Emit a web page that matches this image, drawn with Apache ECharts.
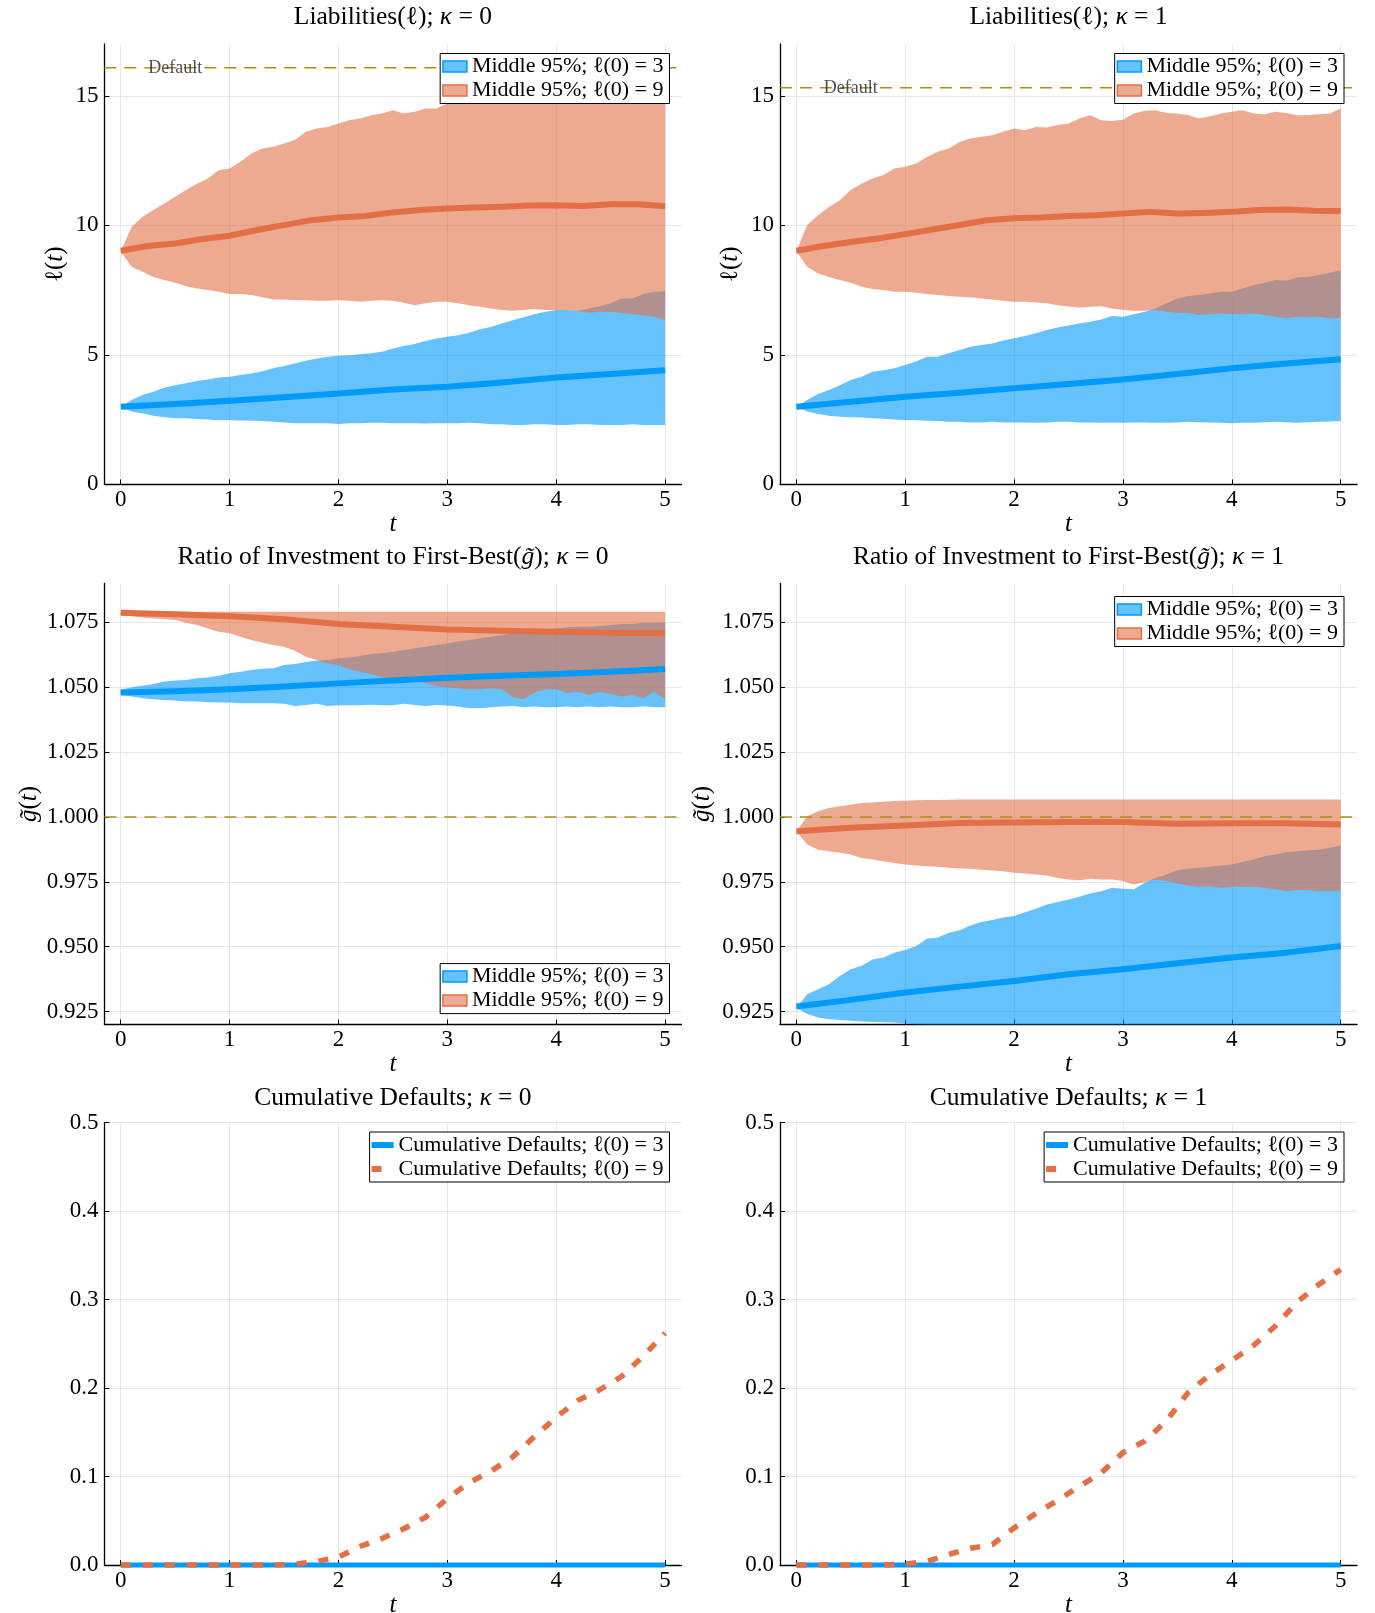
<!DOCTYPE html>
<html>
<head>
<meta charset="utf-8">
<title>Simulated liabilities, investment ratio and cumulative defaults</title>
<script src="https://cdn.jsdelivr.net/npm/echarts@6/dist/echarts.min.js"></script>
<style>
  html, body { margin: 0; padding: 0; background: #ffffff; }
  #chart { width: 1375px; height: 1613px; }
</style>
</head>
<body>
<div id="chart"></div>
<script>
// ---------- time grids ----------
const T_BAND = [0,0.1,0.2,0.3,0.4,0.5,0.6,0.7,0.8,0.9,1,1.1,1.2,1.3,1.4,1.5,1.6,1.7,1.8,1.9,2,2.1,2.2,2.3,2.4,2.5,2.6,2.7,2.8,2.9,3,3.1,3.2,3.3,3.4,3.5,3.6,3.7,3.8,3.9,4,4.1,4.2,4.3,4.4,4.5,4.6,4.7,4.8,4.9,5];
const T_QUARTER = [0,0.25,0.5,0.75,1,1.25,1.5,1.75,2,2.25,2.5,2.75,3,3.25,3.5,3.75,4,4.25,4.5,4.75,5];
const T_HALF = [0,0.5,1,1.5,2,2.5,3,3.5,4,4.5,5];
const T_DEF = [0,0.2,0.4,0.6,0.8,1,1.2,1.4,1.6,1.8,2,2.2,2.4,2.6,2.8,3,3.2,3.4,3.6,3.8,4,4.2,4.4,4.6,4.8,5];

// ---------- tick labels ----------
const X_TICKS = [0,1,2,3,4,5];
const LIAB_TICKS = [0,5,10,15];
const RATIO_TICKS = [0.925,0.95,0.975,1.0,1.025,1.05,1.075];
const DEF_TICKS = [0,0.1,0.2,0.3,0.4,0.5];

// ---------- liabilities, kappa = 0 ----------
const liab0_lo3 = [3.0,2.81,2.74,2.65,2.59,2.55,2.55,2.52,2.51,2.48,2.48,2.47,2.46,2.45,2.42,2.39,2.36,2.36,2.36,2.36,2.33,2.36,2.36,2.38,2.38,2.36,2.36,2.36,2.35,2.36,2.36,2.36,2.38,2.36,2.32,2.32,2.29,2.29,2.32,2.32,2.29,2.29,2.32,2.32,2.29,2.29,2.29,2.32,2.29,2.29,2.29];
const liab0_hi3 = [3.0,3.26,3.45,3.58,3.73,3.83,3.9,3.99,4.05,4.13,4.16,4.22,4.28,4.37,4.48,4.57,4.67,4.77,4.86,4.93,4.97,4.99,5.02,5.06,5.12,5.25,5.34,5.42,5.54,5.63,5.7,5.76,5.85,5.99,6.08,6.21,6.34,6.45,6.57,6.66,6.73,6.73,6.7,6.79,6.88,6.99,7.18,7.18,7.35,7.44,7.46];
const liab0_lo9 = [9.0,8.4,8.21,8.01,7.89,7.78,7.65,7.56,7.5,7.44,7.35,7.35,7.31,7.22,7.14,7.14,7.11,7.11,7.09,7.09,7.11,7.09,7.05,7.09,7.11,7.09,7.01,6.92,6.99,7.05,7.05,6.99,6.92,6.86,6.79,6.73,6.7,6.73,6.77,6.73,6.73,6.73,6.69,6.63,6.66,6.66,6.62,6.57,6.53,6.47,6.34];
const liab0_hi9 = [9.0,9.94,10.33,10.59,10.84,11.1,11.36,11.61,11.81,12.13,12.19,12.45,12.77,12.97,13.03,13.16,13.29,13.61,13.74,13.8,13.93,14.06,14.12,14.25,14.32,14.44,14.32,14.38,14.51,14.51,14.7,14.75,14.8,14.85,14.9,14.95,15.0,15.02,15.05,15.08,15.1,15.12,15.15,15.17,15.2,15.22,15.25,15.27,15.3,15.3,15.32];
const liab0_med3 = [3.0,3.1,3.23,3.36,3.51,3.66,3.77,3.93,4.13,4.26,4.41];
const liab0_med9 = [9.02,9.2,9.3,9.47,9.6,9.82,10.01,10.2,10.3,10.36,10.5,10.59,10.65,10.69,10.72,10.77,10.78,10.75,10.81,10.81,10.74];

// ---------- liabilities, kappa = 1 ----------
const liab1_lo3 = [3.0,2.81,2.72,2.65,2.61,2.59,2.58,2.55,2.53,2.51,2.48,2.48,2.46,2.45,2.42,2.42,2.39,2.39,2.42,2.39,2.39,2.39,2.38,2.39,2.42,2.42,2.39,2.39,2.38,2.39,2.38,2.39,2.39,2.38,2.38,2.39,2.42,2.4,2.39,2.38,2.36,2.38,2.38,2.4,2.42,2.4,2.38,2.4,2.42,2.43,2.45];
const liab1_hi3 = [3.0,3.26,3.49,3.64,3.83,4.03,4.16,4.35,4.41,4.48,4.61,4.74,4.93,4.93,5.06,5.19,5.31,5.38,5.44,5.55,5.64,5.73,5.83,5.96,6.06,6.13,6.21,6.28,6.37,6.5,6.47,6.57,6.66,6.79,6.99,7.18,7.27,7.31,7.37,7.44,7.44,7.56,7.69,7.78,7.89,7.86,7.99,8.01,8.08,8.17,8.27];
const liab1_lo9 = [9.0,8.4,8.14,8.01,7.89,7.78,7.63,7.54,7.5,7.44,7.44,7.4,7.35,7.31,7.27,7.24,7.22,7.18,7.14,7.09,7.05,7.05,7.02,6.99,6.92,6.87,6.83,6.86,6.88,6.79,6.73,6.7,6.7,6.73,6.66,6.62,6.62,6.54,6.57,6.6,6.57,6.57,6.6,6.54,6.47,6.41,6.47,6.45,6.47,6.41,6.43];
const liab1_hi9 = [9.0,10.01,10.39,10.71,10.97,11.36,11.61,11.81,11.94,12.19,12.26,12.39,12.64,12.84,12.97,13.22,13.35,13.42,13.48,13.61,13.74,13.67,13.8,13.78,13.87,13.93,14.12,14.25,14.06,14.03,14.08,14.32,14.42,14.44,14.34,14.32,14.25,14.12,14.21,14.32,14.38,14.44,14.32,14.29,14.38,14.34,14.25,14.25,14.29,14.32,14.51];
const liab1_med3 = [3.0,3.19,3.38,3.54,3.71,3.88,4.05,4.26,4.48,4.67,4.83];
const liab1_med9 = [9.02,9.2,9.36,9.49,9.66,9.84,10.01,10.2,10.27,10.3,10.36,10.39,10.46,10.52,10.46,10.48,10.52,10.59,10.61,10.56,10.55];

// default thresholds for liabilities
const DEFAULT_LIAB = [16.08, 15.31];

// ---------- investment ratio, kappa = 0 ----------
const ratio0_lo3 = [1.047,1.0464,1.0458,1.0454,1.0451,1.0449,1.0445,1.0445,1.0442,1.0441,1.0441,1.0438,1.0438,1.0438,1.0438,1.0436,1.0428,1.0432,1.0436,1.0428,1.0431,1.0431,1.0431,1.0433,1.0431,1.0431,1.0436,1.0432,1.0428,1.0432,1.043,1.0426,1.0419,1.0419,1.0423,1.0426,1.0428,1.0423,1.0426,1.0423,1.0423,1.0426,1.0423,1.0426,1.0423,1.0426,1.0423,1.0423,1.0426,1.0423,1.0423];
const ratio0_hi3 = [1.049,1.05,1.0506,1.0513,1.0522,1.0526,1.0528,1.0535,1.0538,1.0544,1.0554,1.056,1.0567,1.0571,1.0573,1.0586,1.059,1.0597,1.0603,1.0605,1.0612,1.0615,1.0621,1.0628,1.0631,1.0637,1.0644,1.065,1.0656,1.0663,1.0669,1.0676,1.0682,1.0688,1.0695,1.0701,1.0708,1.071,1.0718,1.0723,1.0727,1.0731,1.0733,1.0733,1.0736,1.074,1.0744,1.0744,1.0749,1.0749,1.075];
const ratio0_lo9 = [1.0778,1.0774,1.0769,1.0765,1.0763,1.0759,1.0749,1.074,1.0727,1.0714,1.0708,1.0695,1.0682,1.0672,1.0663,1.0656,1.0641,1.0618,1.0605,1.0592,1.0586,1.0569,1.056,1.0551,1.0538,1.0528,1.0538,1.0528,1.0515,1.0505,1.05,1.0496,1.0492,1.0492,1.0496,1.0492,1.0462,1.0454,1.0479,1.0492,1.0492,1.0477,1.0483,1.047,1.0483,1.0474,1.0464,1.047,1.0458,1.0483,1.0454];
const ratio0_hi9 = [1.0791,1.0791,1.0791,1.0791,1.0791,1.0791,1.0791,1.0791,1.0791,1.0791,1.0791,1.0791,1.0791,1.0791,1.0791,1.0791,1.0791,1.0791,1.0791,1.0791,1.0791,1.0791,1.0791,1.0791,1.0791,1.0791,1.0791,1.0791,1.0791,1.0791,1.0791,1.0791,1.0791,1.0791,1.0791,1.0791,1.0791,1.0791,1.0791,1.0791,1.0791,1.0791,1.0791,1.0791,1.0791,1.0791,1.0791,1.0791,1.0791,1.0791,1.0791];
const ratio0_med3 = [1.048,1.0485,1.0492,1.0503,1.0515,1.0526,1.0537,1.0544,1.0551,1.056,1.057];
const ratio0_med9 = [1.0787,1.0781,1.0774,1.0762,1.0744,1.0733,1.0723,1.0718,1.0714,1.071,1.0708];

// ---------- investment ratio, kappa = 1 ----------
const ratio1_lo3 = [0.9265,0.924,0.9227,0.922,0.9217,0.9214,0.9212,0.921,0.9209,0.9208,0.9204,0.92,0.9198,0.9196,0.9195,0.9194,0.9193,0.9192,0.9191,0.919,0.919,0.9189,0.9189,0.9188,0.9188,0.9187,0.9187,0.9186,0.9186,0.9186,0.9185,0.9185,0.9185,0.9184,0.9184,0.9184,0.9183,0.9183,0.9183,0.9183,0.9182,0.9182,0.9182,0.9182,0.9181,0.9181,0.9181,0.9181,0.918,0.918,0.918];
const ratio1_hi3 = [0.9265,0.9317,0.9336,0.9355,0.9387,0.9413,0.9426,0.9451,0.9458,0.9477,0.9487,0.9503,0.9531,0.9535,0.9554,0.9563,0.9582,0.9595,0.9603,0.9612,0.9618,0.9633,0.9646,0.9663,0.9672,0.9682,0.9692,0.9705,0.9714,0.9727,0.9723,0.9721,0.9746,0.9765,0.9778,0.9795,0.98,0.9804,0.9808,0.9813,0.9817,0.9826,0.9836,0.9849,0.9855,0.9864,0.9868,0.9872,0.9874,0.9881,0.989];
const ratio1_lo9 = [0.9945,0.9894,0.9874,0.9868,0.9862,0.9855,0.9842,0.9836,0.9829,0.9823,0.9817,0.9813,0.981,0.9808,0.9804,0.9801,0.98,0.9797,0.9794,0.9791,0.9785,0.9782,0.9778,0.9774,0.9765,0.9759,0.9756,0.9762,0.9759,0.9759,0.9753,0.974,0.9749,0.9759,0.9753,0.9744,0.9736,0.9731,0.9733,0.9727,0.973,0.9731,0.9731,0.9727,0.9721,0.9714,0.9718,0.9718,0.9714,0.9714,0.9714];
const ratio1_hi9 = [0.9945,1.0003,1.0022,1.0035,1.0041,1.0047,1.0054,1.0056,1.0059,1.0062,1.0063,1.0064,1.0065,1.0065,1.0066,1.0067,1.0067,1.0067,1.0067,1.0067,1.0067,1.0067,1.0067,1.0067,1.0067,1.0067,1.0067,1.0067,1.0067,1.0067,1.0067,1.0067,1.0067,1.0067,1.0067,1.0067,1.0067,1.0067,1.0067,1.0067,1.0067,1.0067,1.0067,1.0067,1.0067,1.0067,1.0067,1.0067,1.0067,1.0067,1.0067];
const ratio1_med3 = [0.9269,0.9295,0.9323,0.9346,0.9368,0.9394,0.9413,0.9436,0.9458,0.9477,0.9503];
const ratio1_med9 = [0.9945,0.9958,0.9967,0.9977,0.9979,0.9981,0.9981,0.9974,0.9976,0.9976,0.9971];

// first-best reference level for the investment ratio
const FIRST_BEST = [1.0, 1.0];

// ---------- cumulative defaults ----------
const def0_3 = [0,0,0,0,0,0,0,0,0,0,0,0,0,0,0,0,0,0,0,0,0,0,0,0,0,0];
const def0_9 = [0,0,0,0,0,0,0,0,0.001,0.004,0.009,0.021,0.03,0.041,0.054,0.075,0.093,0.106,0.122,0.145,0.167,0.186,0.198,0.213,0.236,0.262];
const def1_3 = [0,0,0,0,0,0,0,0,0,0,0,0,0,0,0,0,0,0,0,0,0,0,0,0,0,0];
const def1_9 = [0,0,0,0,0,0.001,0.004,0.012,0.019,0.023,0.042,0.058,0.073,0.089,0.104,0.127,0.14,0.163,0.195,0.215,0.231,0.248,0.27,0.297,0.317,0.334];

// ---------- styling ----------
const FONT = "'Liberation Serif', 'DejaVu Serif', serif";
const BLUE = '#009AFA';
const ORANGE = '#E36F47';
const BLUE_BAND = 'rgba(0,154,250,0.6)';
const ORANGE_BAND = 'rgba(227,111,71,0.6)';
const GOLD = '#AC8E18';
const BLUE_SWATCH = '#66C2FC';
const ORANGE_SWATCH = '#EEA991';
const GRID_LINE = '#e6e6e6';

const NAME_B3 = 'Middle 95%; ℓ(0) = 3';
const NAME_B9 = 'Middle 95%; ℓ(0) = 9';
const NAME_D3 = 'Cumulative Defaults; ℓ(0) = 3';
const NAME_D9 = 'Cumulative Defaults; ℓ(0) = 9';

const COL_LEFT = [104.4, 780];
const COL_WIDTH = 577;
const ROW_TOP = [44, 583.5, 1122.5];
const ROW_HEIGHT = [440.4, 441, 442.5];

const pairs = (t, v) => t.map((x, i) => [x, v[i]]);

// ---------- builders ----------
// a shaded quantile band: one polygon along the upper edge and back along the lower edge
function bandSeries(g, t, lo, hi, fill, color, name, clip) {
  return {
    type: 'custom', name: name, coordinateSystem: 'cartesian2d', xAxisIndex: g, yAxisIndex: g,
    data: [[t[0], lo[0]]], clip: !!clip, silent: true, animation: false,
    itemStyle: { color: color },
    renderItem: function (params, api) {
      const pts = [];
      for (let i = 0; i < t.length; i++) pts.push(api.coord([t[i], hi[i]]));
      for (let i = t.length - 1; i >= 0; i--) pts.push(api.coord([t[i], lo[i]]));
      return { type: 'polygon', shape: { points: pts }, style: { fill: fill, stroke: null } };
    }
  };
}

function lineSeries(g, t, v, color, width, dash, name) {
  return { type: 'line', name: name, xAxisIndex: g, yAxisIndex: g, data: pairs(t, v),
    symbol: 'none', clip: false, itemStyle: { color: color },
    lineStyle: { color: color, width: width, type: dash || 'solid', cap: 'butt', join: 'round' },
    silent: true, animation: false };
}

function levelSeries(g, level) {
  return { type: 'line', xAxisIndex: g, yAxisIndex: g, data: [[-0.15, level], [5.15, level]],
    symbol: 'none', lineStyle: { color: GOLD, width: 1.5, type: [12, 8] },
    silent: true, animation: false };
}

function labelSeries(g, level) {
  return { type: 'scatter', xAxisIndex: g, yAxisIndex: g, data: [[0.5, level]], symbolSize: 1,
    itemStyle: { color: 'rgba(0,0,0,0)' }, z: 5,
    label: { show: true, position: 'inside', formatter: 'Default', fontFamily: FONT, fontSize: 18, color: '#222' },
    silent: true, animation: false };
}

const tickLabel = { fontFamily: FONT, fontSize: 23, color: '#000' };

function xAxisCfg(g, gap) {
  return {
    type: 'value', gridIndex: g, min: -0.15, max: 5.15,
    name: 't', nameLocation: 'middle', nameGap: gap,
    nameTextStyle: { fontFamily: FONT, fontSize: 25, fontStyle: 'italic', color: '#000' },
    axisLine: { onZero: false, lineStyle: { color: '#000', width: 1.3 } },
    axisTick: { show: true, inside: true, length: 5, customValues: X_TICKS, lineStyle: { color: '#000', width: 1 } },
    axisLabel: Object.assign({ customValues: X_TICKS, margin: 4, formatter: v => String(v) }, tickLabel),
    splitLine: { show: true, lineStyle: { color: GRID_LINE, width: 1 } }
  };
}

function yAxisCfg(g, min, max, ticks, digits, name, gap) {
  const cfg = {
    type: 'value', gridIndex: g, min: min, max: max,
    axisLine: { onZero: false, lineStyle: { color: '#000', width: 1.3 } },
    axisTick: { show: true, inside: true, length: 5, customValues: ticks, lineStyle: { color: '#000', width: 1 } },
    axisLabel: Object.assign({ customValues: ticks, margin: 6, formatter: v => Number(v).toFixed(digits) }, tickLabel),
    splitLine: { show: true, lineStyle: { color: GRID_LINE, width: 1 } }
  };
  if (name) {
    Object.assign(cfg, {
      name: name, nameLocation: 'middle', nameRotate: 90, nameGap: gap,
      nameTextStyle: { fontFamily: FONT, fontSize: 25, color: '#000',
        rich: { i: { fontFamily: FONT, fontSize: 25, fontStyle: 'italic', color: '#000' },
                n: { fontFamily: FONT, fontSize: 25, color: '#000' } } }
    });
  }
  return cfg;
}

function titleCfg(text, col, row) {
  const centers = [17.5, 557.4, 1098.3];
  return {
    text: text, left: COL_LEFT[col] + COL_WIDTH / 2, top: centers[row] - 13, textAlign: 'center',
    padding: 0,
    textStyle: { fontFamily: FONT, fontSize: 25.5, fontWeight: 'normal', color: '#000',
      rich: { i: { fontFamily: FONT, fontSize: 25.5, fontStyle: 'italic', color: '#000' } } }
  };
}

function legendCfg(top, right, items, width, height) {
  return {
    top: top, right: right, orient: 'vertical', selectedMode: false,
    backgroundColor: '#ffffff', borderColor: '#000', borderWidth: 1,
    padding: [2, 6, 2, 2], itemGap: 2, itemWidth: width, itemHeight: height,
    textStyle: { fontFamily: FONT, fontSize: 22, color: '#000' },
    data: items
  };
}

const bandLegend = [
  { name: NAME_B3, icon: 'rect', itemStyle: { color: BLUE_SWATCH, borderColor: BLUE, borderWidth: 1.5 } },
  { name: NAME_B9, icon: 'rect', itemStyle: { color: ORANGE_SWATCH, borderColor: ORANGE, borderWidth: 1.5 } }
];
// solid bar for the flat series, a single dash for the dashed series
const defaultLegend = [
  { name: NAME_D3, icon: 'path://M0,0H22V6H0Z', itemStyle: { color: BLUE, borderWidth: 0 } },
  { name: NAME_D9, icon: 'path://M0,0H10V6H0ZM21.95,5.95H22V6H21.95Z', itemStyle: { color: ORANGE, borderWidth: 0 } }
];

// ---------- grids ----------
const grids = [];
for (let r = 0; r < 3; r++) {
  for (let c = 0; c < 2; c++) {
    grids.push({ left: COL_LEFT[c], top: ROW_TOP[r], width: COL_WIDTH, height: ROW_HEIGHT[r],
      containLabel: false, outerBoundsMode: 'none', show: false });
  }
}

// ---------- series ----------
const series = [];
// liabilities
series.push(bandSeries(0, T_BAND, liab0_lo3, liab0_hi3, BLUE_BAND, BLUE, NAME_B3));
series.push(lineSeries(0, T_HALF, liab0_med3, BLUE, 6));
series.push(bandSeries(0, T_BAND, liab0_lo9, liab0_hi9, ORANGE_BAND, ORANGE, NAME_B9));
series.push(lineSeries(0, T_QUARTER, liab0_med9, ORANGE, 6));
series.push(levelSeries(0, DEFAULT_LIAB[0]));
series.push(labelSeries(0, DEFAULT_LIAB[0]));

series.push(bandSeries(1, T_BAND, liab1_lo3, liab1_hi3, BLUE_BAND, BLUE, NAME_B3));
series.push(lineSeries(1, T_HALF, liab1_med3, BLUE, 6));
series.push(bandSeries(1, T_BAND, liab1_lo9, liab1_hi9, ORANGE_BAND, ORANGE, NAME_B9));
series.push(lineSeries(1, T_QUARTER, liab1_med9, ORANGE, 6));
series.push(levelSeries(1, DEFAULT_LIAB[1]));
series.push(labelSeries(1, DEFAULT_LIAB[1]));

// investment ratio
series.push(bandSeries(2, T_BAND, ratio0_lo3, ratio0_hi3, BLUE_BAND, BLUE, NAME_B3));
series.push(lineSeries(2, T_HALF, ratio0_med3, BLUE, 6));
series.push(bandSeries(2, T_BAND, ratio0_lo9, ratio0_hi9, ORANGE_BAND, ORANGE, NAME_B9));
series.push(lineSeries(2, T_HALF, ratio0_med9, ORANGE, 6));
series.push(levelSeries(2, FIRST_BEST[0]));

series.push(bandSeries(3, T_BAND, ratio1_lo3, ratio1_hi3, BLUE_BAND, BLUE, NAME_B3, true));
series.push(lineSeries(3, T_HALF, ratio1_med3, BLUE, 6));
series.push(bandSeries(3, T_BAND, ratio1_lo9, ratio1_hi9, ORANGE_BAND, ORANGE, NAME_B9, true));
series.push(lineSeries(3, T_HALF, ratio1_med9, ORANGE, 6));
series.push(levelSeries(3, FIRST_BEST[1]));

// cumulative defaults
series.push(lineSeries(4, T_DEF, def0_3, BLUE, 5, 'solid', NAME_D3));
series.push(lineSeries(4, T_DEF, def0_9, ORANGE, 5.5, [10, 12], NAME_D9));
series.push(lineSeries(5, T_DEF, def1_3, BLUE, 5, 'solid', NAME_D3));
series.push(lineSeries(5, T_DEF, def1_9, ORANGE, 5.5, [10, 12], NAME_D9));

const ELL = '{n|ℓ(}{i|t}{n|)}';
const GT = '{i|g\u0303}{n|(}{i|t}{n|)}';

const option = {
  backgroundColor: '#ffffff',
  animation: false,
  title: [
    titleCfg('Liabilities(ℓ); {i|κ} = 0', 0, 0),
    titleCfg('Liabilities(ℓ); {i|κ} = 1', 1, 0),
    titleCfg('Ratio of Investment to First-Best({i|g\u0303}); {i|κ} = 0', 0, 1),
    titleCfg('Ratio of Investment to First-Best({i|g\u0303}); {i|κ} = 1', 1, 1),
    titleCfg('Cumulative Defaults; {i|κ} = 0', 0, 2),
    titleCfg('Cumulative Defaults; {i|κ} = 1', 1, 2)
  ],
  legend: [
    legendCfg(53.5, 705.5, bandLegend, 24, 11),
    legendCfg(53.5, 31, bandLegend, 24, 11),
    legendCfg(963.6, 705.5, bandLegend, 24, 11),
    legendCfg(596.5, 31, bandLegend, 24, 11),
    legendCfg(1132, 705.5, defaultLegend, 22, 6),
    legendCfg(1132, 31, defaultLegend, 22, 6)
  ],
  grid: grids,
  xAxis: [xAxisCfg(0, 26), xAxisCfg(1, 26), xAxisCfg(2, 25), xAxisCfg(3, 25), xAxisCfg(4, 24), xAxisCfg(5, 24)],
  yAxis: [
    yAxisCfg(0, 0, 17, LIAB_TICKS, 0, ELL, 36),
    yAxisCfg(1, 0, 17, LIAB_TICKS, 0, ELL, 37),
    yAxisCfg(2, 0.92, 1.09, RATIO_TICKS, 3, GT, 62),
    yAxisCfg(3, 0.92, 1.09, RATIO_TICKS, 3, GT, 65),
    yAxisCfg(4, 0, 0.5, DEF_TICKS, 1),
    yAxisCfg(5, 0, 0.5, DEF_TICKS, 1)
  ],
  series: series
};

const chart = echarts.init(document.getElementById('chart'), null, { renderer: 'canvas', width: 1375, height: 1613 });
chart.setOption(option);
</script>
</body>
</html>
